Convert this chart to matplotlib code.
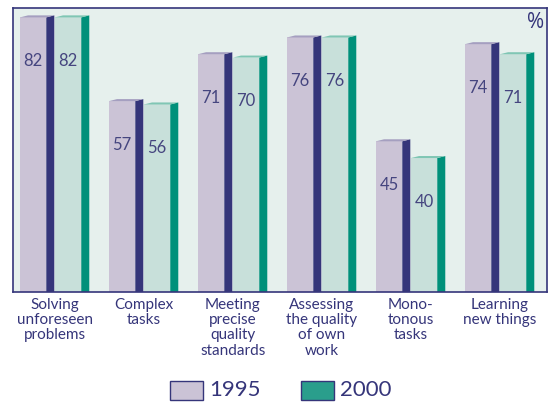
import matplotlib.pyplot as plt
from matplotlib.patches import Polygon, Rectangle

plt.rcParams['font.family'] = ['Lato', 'DejaVu Sans']

# Data
categories = ["Solving\nunforeseen\nproblems", "Complex\ntasks", "Meeting\nprecise\nquality\nstandards",
              "Assessing\nthe quality\nof own\nwork", "Mono-\ntonous\ntasks", "Learning\nnew things"]
values_1995 = [82, 57, 71, 76, 45, 74]
values_2000 = [82, 56, 70, 76, 40, 71]
years = ["1995", "2000"]

text_col = "#35357a"
bg_col = "#e6f0ed"
front_cols = ["#cbc3d6", "#c8e0da"]
side_cols = ["#35357a", "#00907a"]
top_cols = ["#a59fc0", "#80c6b4"]

fig = plt.figure(figsize=(5.5, 4.03), dpi=100)
ax = fig.add_axes([13 / 550, 111 / 403, 534 / 550, 284 / 403])
ax.set_facecolor(bg_col)
ax.set_xlim(0, 6)
ax.set_ylim(0, 84.8)

offsets = [0.079, 0.472]
width = 0.295
dx, dy = 0.09, 0.6

for s, vals in enumerate([values_1995, values_2000]):
    for i, v in enumerate(vals):
        x0 = i + offsets[s]
        x1 = x0 + width
        ax.bar(x0, v, width=width, align="edge", color=front_cols[s], linewidth=0, zorder=2)
        side = Polygon([(x1, -dy), (x1 + dx, 0), (x1 + dx, v + dy), (x1, v)],
                       closed=True, color=side_cols[s], linewidth=0, zorder=2)
        ax.add_patch(side)
        top = Polygon([(x0, v), (x0 + dx, v + dy), (x1 + dx, v + dy), (x1, v)],
                      closed=True, color=top_cols[s], linewidth=0, zorder=2)
        ax.add_patch(top)
        ax.text(x0 + width / 2, v - 13, str(v), ha="center", va="center",
                fontsize=12, color="#45457f", zorder=3)

ax.text(0.995, 0.985, "%", transform=ax.transAxes, ha="right", va="top",
        fontsize=15, color=text_col, family=['Open Sans', 'DejaVu Sans'])

ax.set_xticks([i + 0.47 for i in range(6)])
ax.set_xticklabels(categories, fontsize=11, color=text_col, linespacing=1.12, va="top")
ax.tick_params(axis="x", length=0, pad=4)
ax.set_yticks([])
for sp in ax.spines.values():
    sp.set_color(text_col)
    sp.set_linewidth(1.2)

# legend
for j, yr in enumerate(years):
    lx = [170, 301][j]
    fig.patches.append(Rectangle((lx / 550, 3 / 403), 33 / 550, 19 / 403, transform=fig.transFigure,
                                 facecolor=[front_cols[0], "#2a9e8c"][j], edgecolor=text_col, linewidth=1))
    fig.text((lx + 39) / 550, 12.5 / 403, yr, fontsize=16, color=text_col, va="center", ha="left")

fig.savefig("out.png", dpi=100)
